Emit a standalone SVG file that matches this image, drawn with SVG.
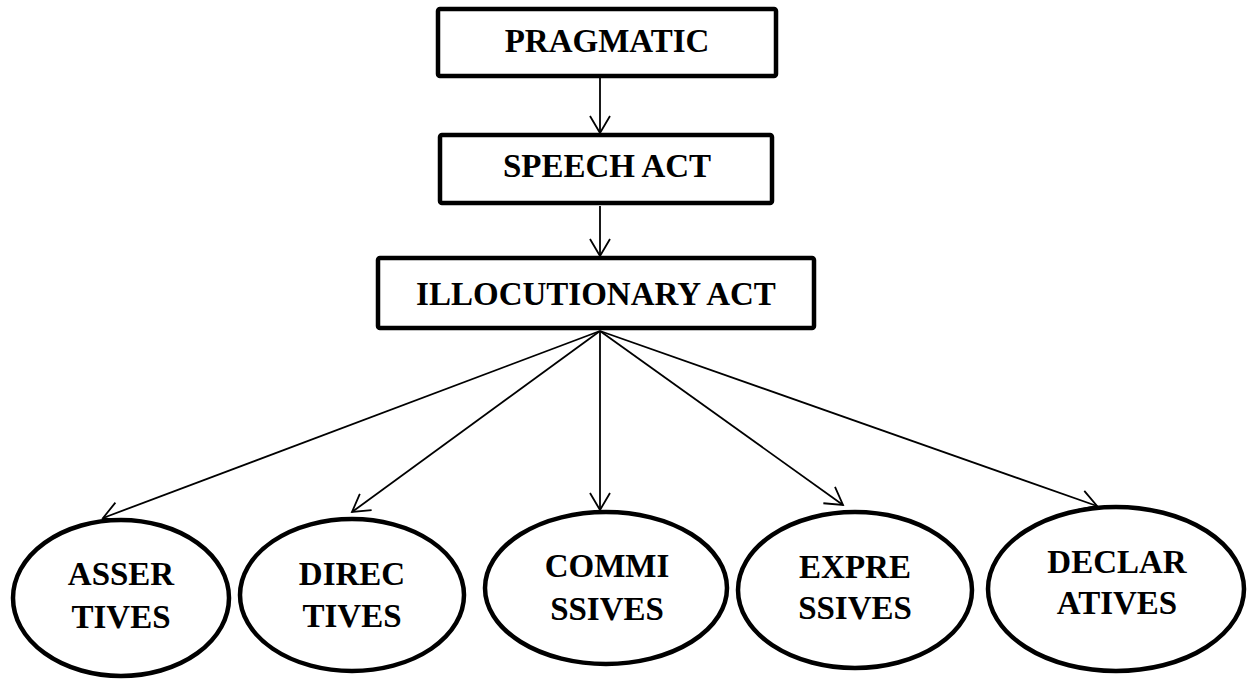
<svg xmlns="http://www.w3.org/2000/svg" width="1254" height="679" viewBox="0 0 1254 679">
<style>
.box{fill:#fff;stroke:#000;stroke-width:4.5;}
.ell{fill:#fff;stroke:#000;stroke-width:4.5;}
.t{font-family:"Liberation Serif","Times New Roman",serif;font-weight:bold;font-size:33px;fill:#000;text-anchor:middle;}
.c{stroke:#000;stroke-width:1.8;fill:none;marker-end:url(#ah);}
</style>
<defs>
<marker id="ah" viewBox="0 0 20 22" refX="18" refY="11" markerWidth="20" markerHeight="22" markerUnits="userSpaceOnUse" orient="auto">
<path d="M1,1 L18,11 L1,21" fill="none" stroke="#000" stroke-width="1.8"/>
</marker>
</defs>
<g id="connectors">
<line class="c" x1="600" y1="78" x2="600" y2="133"/>
<line class="c" x1="600" y1="206" x2="600" y2="256"/>
<line class="c" x1="600" y1="331" x2="103" y2="518"/>
<line class="c" x1="600" y1="331" x2="352" y2="512"/>
<line class="c" x1="600" y1="331" x2="600" y2="510"/>
<line class="c" x1="600" y1="331" x2="843" y2="505"/>
<line class="c" x1="600" y1="331" x2="1097" y2="506"/>
</g>
<g id="pragmatic">
<rect class="box" x="438" y="9" width="338" height="67" rx="2"/>
<text class="t" x="607" y="52">PRAGMATIC</text>
</g>
<g id="speech-act">
<rect class="box" x="440" y="135" width="332" height="68" rx="2"/>
<text class="t" x="607" y="177">SPEECH ACT</text>
</g>
<g id="illocutionary-act">
<rect class="box" x="378" y="258" width="436" height="70" rx="2"/>
<text class="t" x="596" y="305">ILLOCUTIONARY ACT</text>
</g>
<g id="assertives">
<ellipse class="ell" cx="121" cy="598" rx="108" ry="78"/>
<text class="t" x="121" y="585">ASSER</text>
<text class="t" x="121" y="628">TIVES</text>
</g>
<g id="directives">
<ellipse class="ell" cx="352" cy="595" rx="112" ry="76"/>
<text class="t" x="352" y="585">DIREC</text>
<text class="t" x="352" y="627">TIVES</text>
</g>
<g id="commissives">
<ellipse class="ell" cx="606" cy="588" rx="121" ry="76"/>
<text class="t" x="607" y="577">COMMI</text>
<text class="t" x="607" y="620">SSIVES</text>
</g>
<g id="expressives">
<ellipse class="ell" cx="855" cy="590" rx="117" ry="78"/>
<text class="t" x="855" y="578">EXPRE</text>
<text class="t" x="855" y="619">SSIVES</text>
</g>
<g id="declaratives">
<ellipse class="ell" cx="1116" cy="589" rx="128" ry="82"/>
<text class="t" x="1117" y="573">DECLAR</text>
<text class="t" x="1117" y="614">ATIVES</text>
</g>
</svg>
